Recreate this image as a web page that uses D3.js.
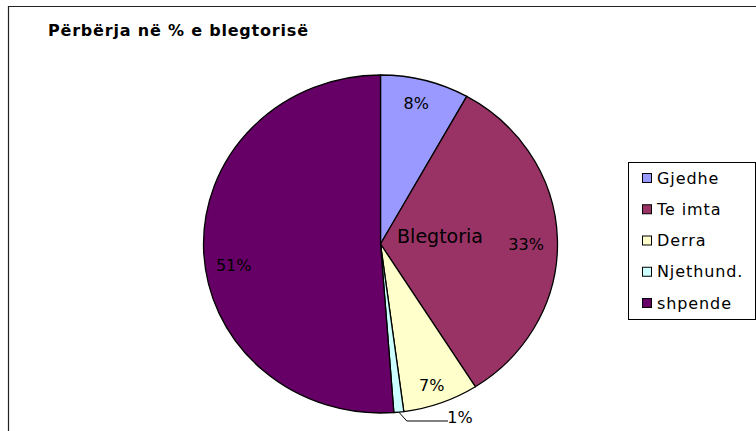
<!DOCTYPE html>
<html>
<head>
<meta charset="utf-8">
<script src="https://cdn.jsdelivr.net/npm/d3@7"></script>
<style>
  html, body { margin: 0; padding: 0; background: #fff; }
  svg { display: block; }
</style>
</head>
<body>
<div id="chart"></div>
<script>
const categories = ['Gjedhe', 'Te imta', 'Derra', 'Njethund.', 'shpende'];
const values = [8.1, 32.9, 6.9, 0.9, 51.2];
const labels = ['8%', '33%', '7%', '1%', '51%'];
const colors = ['#9999FF', '#993366', '#FFFFCC', '#CCFFFF', '#660066'];

const width = 756, height = 431;
const font = 'DejaVu Sans, Verdana, sans-serif';

const svg = d3.select('#chart').append('svg')
  .attr('width', width)
  .attr('height', height);

// chart area border (runs off right and bottom)
svg.append('path')
  .attr('d', `M8.5,${height + 2} V6.5 H${width + 2}`)
  .attr('fill', 'none')
  .attr('stroke', '#222')
  .attr('stroke-width', 1.2);

svg.append('text')
  .attr('x', 48)
  .attr('y', 36)
  .attr('font-family', font)
  .attr('font-size', '16px')
  .attr('font-weight', 'bold')
  .attr('letter-spacing', '0.8px')
  .attr('fill', '#000')
  .text('Përbërja në % e blegtorisë');

// pie is drawn slightly wider than tall, like the original
const cx = 380.5, cy = 244, rx = 177, ry = 169;
const g = svg.append('g')
  .attr('transform', `translate(${cx},${cy}) scale(${rx / ry},1)`);

const pie = d3.pie().sort(null).value(d => d)(values);
const arc = d3.arc().innerRadius(0).outerRadius(ry);

g.selectAll('path.slice')
  .data(pie)
  .enter()
  .append('path')
  .attr('class', 'slice')
  .attr('d', arc)
  .attr('fill', (d, i) => colors[i])
  .attr('stroke', '#000')
  .attr('stroke-width', 1.3)
  .attr('vector-effect', 'non-scaling-stroke');

// label radius fraction and nudges per slice
const labelR = [0.87, 0.84, 0.83, 1.05, 0.83];
const nudge = [[-3, 2], [-3, 4], [1, 10], [0, 0], [0, 16]];
const pt = (a, r) => [cx + Math.sin(a) * rx * r, cy - Math.cos(a) * ry * r];

pie.forEach((d, i) => {
  const mid = (d.startAngle + d.endAngle) / 2;
  let [x, y] = pt(mid, labelR[i]);
  if (i === 3) {
    // small slice: label outside with leader line
    const [x0, y0] = pt(mid, 1.0);
    x = 460; y = 421;
    svg.append('polyline')
      .attr('points', `${x0},${y0} ${x0 + 8},${y} ${x - 12},${y}`)
      .attr('fill', 'none')
      .attr('stroke', '#000')
      .attr('stroke-width', 1);
    svg.append('text')
      .attr('x', x).attr('y', y)
      .attr('text-anchor', 'middle')
      .attr('dy', '0.1em')
      .attr('font-family', font)
      .attr('font-size', '16px')
      .attr('fill', '#000')
      .text(labels[i]);
    return;
  }
  svg.append('text')
    .attr('x', x + nudge[i][0]).attr('y', y + nudge[i][1])
    .attr('text-anchor', 'middle')
    .attr('dy', '0.35em')
    .attr('font-family', font)
    .attr('font-size', '16px')
    .attr('fill', '#000')
    .text(labels[i]);
});

svg.append('text')
  .attr('x', 440)
  .attr('y', 236)
  .attr('text-anchor', 'middle')
  .attr('dy', '0.35em')
  .attr('font-family', font)
  .attr('font-size', '19px')
  .attr('fill', '#000')
  .text('Blegtoria');

// legend
const legend = svg.append('g').attr('transform', 'translate(628,162)');
legend.append('rect')
  .attr('x', 0.5).attr('y', 0.5)
  .attr('width', 127).attr('height', 157)
  .attr('fill', '#fff')
  .attr('stroke', '#000')
  .attr('stroke-width', 1);

const rowY = d3.scalePoint().domain(categories).range([16, 141]);
const item = legend.selectAll('g.item')
  .data(categories)
  .enter()
  .append('g')
  .attr('class', 'item')
  .attr('transform', d => `translate(0,${rowY(d)})`);

item.append('rect')
  .attr('x', 14.5).attr('y', -4.5)
  .attr('width', 9).attr('height', 9)
  .attr('fill', (d, i) => colors[i])
  .attr('stroke', '#000')
  .attr('stroke-width', 1);

item.append('text')
  .attr('x', 29)
  .attr('dy', '0.35em')
  .attr('font-family', font)
  .attr('font-size', '16px')
  .attr('letter-spacing', '0.9px')
  .attr('fill', '#000')
  .text(d => d);
</script>
</body>
</html>
